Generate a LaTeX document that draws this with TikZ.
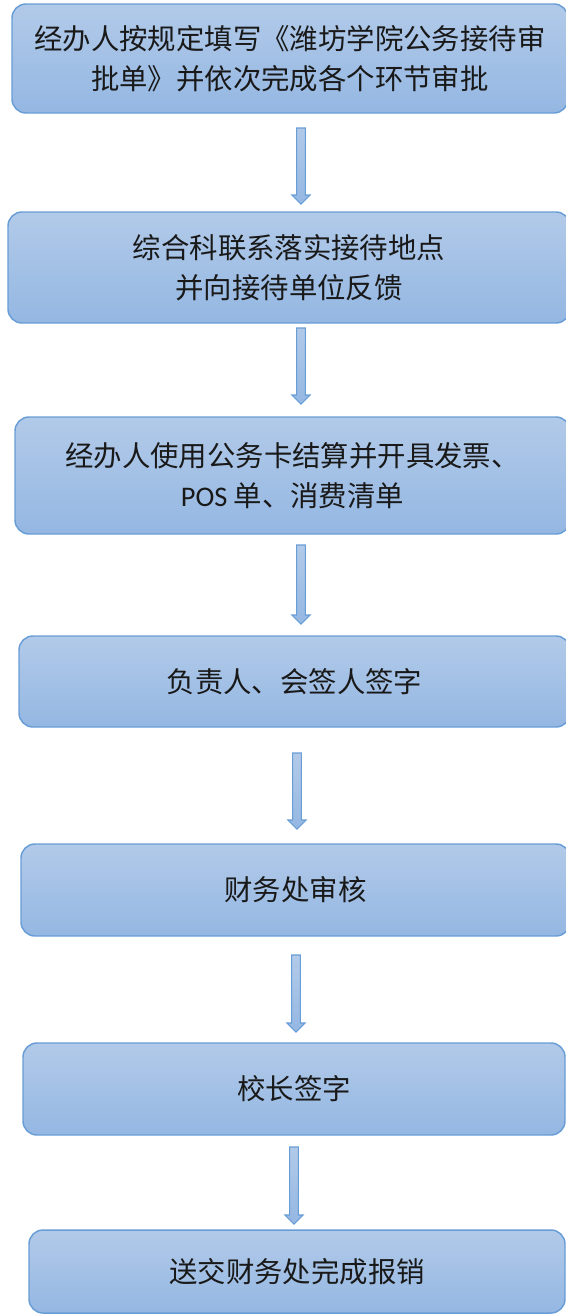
\documentclass[tikz,border=0pt]{standalone}
\usepackage{fontspec}
\setmainfont{Noto Sans CJK SC}
\newfontfamily\latinfont{Carlito}
\usepackage{tikz}
\usetikzlibrary{calc,positioning}
\definecolor{boxtop}{RGB}{178,202,233}
\definecolor{boxbot}{RGB}{148,183,226}
\definecolor{boxedge}{RGB}{104,157,214}
\tikzset{
	flow chart/.style={
		x=0.75pt, y=-0.75pt,
		every node/.style={font=\fontsize{21.3}{30}\selectfont, text=black!90}
		},
	stepbox/.style={
		draw=boxedge, line width=1.1pt, rounded corners=10.5pt,
		top color=boxtop, bottom color=boxbot,
		inner sep=0pt, align=center},
	corners/.style args={#1/#2/#3/#4}{
		at={(#1/2+#3/2,#2/2+#4/2)},
		minimum width={(#3-#1)*0.75pt}, minimum height={(#4-#2)*0.75pt}},
	ar/.style={
		draw=boxedge, line width=0.8pt, top color=boxtop, bottom color=boxbot,
		to path={let \p1=(\tikztostart), \p2=(\tikztotarget) in
			(\x1-3.25pt,\y1) -- (\x1+3.25pt,\y1) -- (\x1+3.25pt,\y2+6.75pt)
			-- (\x1+6.75pt,\y2+6.75pt) -- (\x1,\y2) -- (\x1-6.75pt,\y2+6.75pt)
			-- (\x1-3.25pt,\y2+6.75pt) -- cycle}}
}

\begin{document}
\begin{tikzpicture}[flow chart]
  \useasboundingbox (0,0) rectangle (566,1315);
  \node[stepbox, corners=12/4/568/113] (B1)
    {经办人按规定填写《潍坊学院公务接待审\\批单》并依次完成各个环节审批};
  \node[stepbox, corners=8/212/570/323] (B2)
    {综合科联系落实接待地点\\并向接待单位反馈};
  \node[stepbox, corners=15/417/570/534] (B3)
    {经办人使用公务卡结算并开具发票、\\{\latinfont POS} 单、消费清单};
  \node[stepbox, corners=19/636/570/727] (B4) {负责人、会签人签字};
  \node[stepbox, corners=21/844/570/936] (B5) {财务处审核};
  \node[stepbox, corners=23/1043/565/1135] (B6) {校长签字};
  \node[stepbox, corners=29/1230/565/1313] (B7) {送交财务处完成报销};
  % block arrows between the steps
  \foreach \i/\x/\ya/\yb in {1/301/128/204, 2/301/328/404, 3/301/545/624,
                             4/297/753/829, 5/296/955/1032, 6/294/1147/1224} {
    \coordinate (A\i s) at (\x,\ya);
    \coordinate (A\i e) at (\x,\yb);
    \draw[ar] (A\i s) to (A\i e);
  }
\end{tikzpicture}
\end{document}
